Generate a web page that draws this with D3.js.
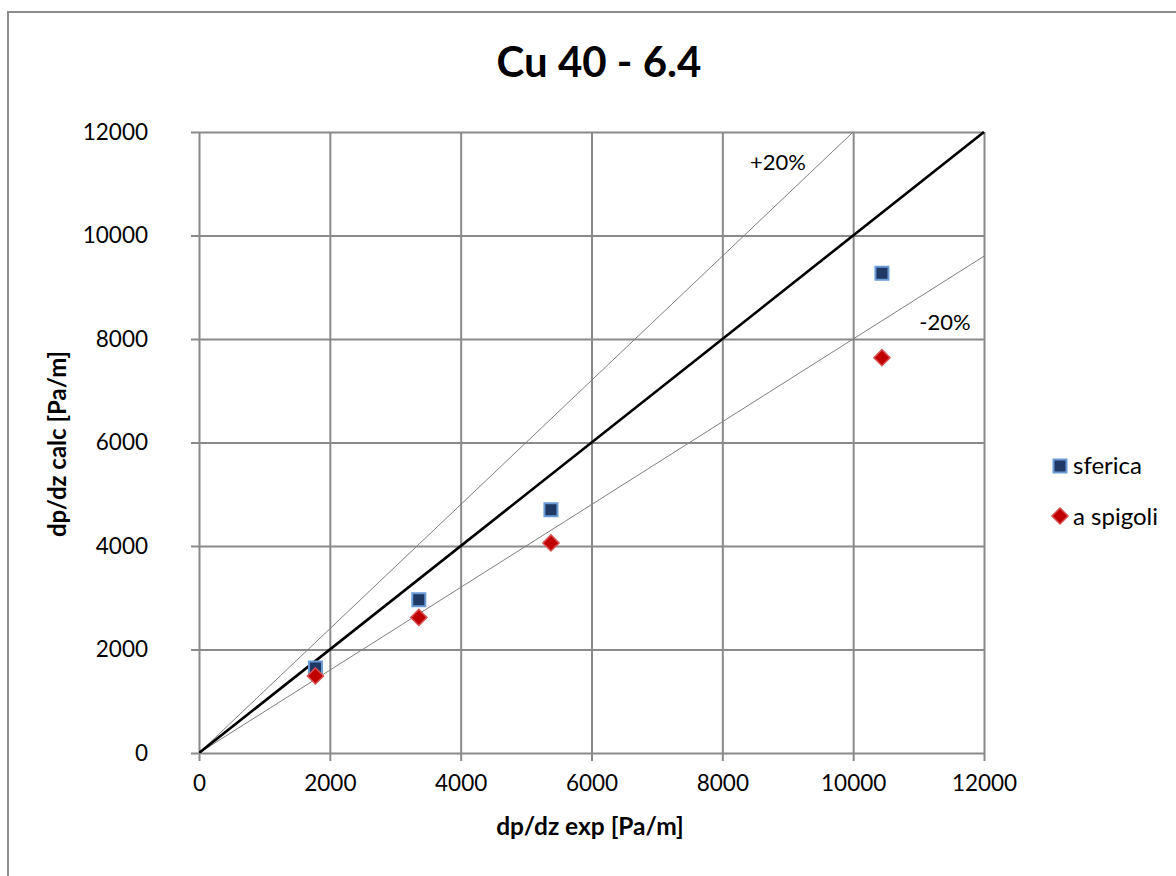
<!DOCTYPE html>
<html>
<head>
<meta charset="utf-8">
<script src="https://cdn.jsdelivr.net/npm/d3@7"></script>
<style>
  html, body { margin: 0; padding: 0; background: #fff; }
  svg { display: block; font-family: Lato, "Open Sans", sans-serif; }
</style>
</head>
<body>
<svg id="chart" width="1176" height="876"></svg>
<script>
// Measured pressure gradient vs. calculated values for two particle shapes
const expGradient   = [1780, 3360, 5380, 10440];   // dp/dz exp [Pa/m]
const calcSferica   = [1640, 2960, 4700, 9270];    // dp/dz calc, spherical
const calcSpigoli   = [1490, 2620, 4060, 7640];    // dp/dz calc, edged
const xTickValues   = [0, 2000, 4000, 6000, 8000, 10000, 12000];
const yTickValues   = [0, 2000, 4000, 6000, 8000, 10000, 12000];
const seriesNames   = ["sferica", "a spigoli"];
const bandFactors   = [1.2, 0.8];                  // ±20% reference lines
const bandLabels    = ["+20%", "-20%"];

const svg = d3.select("#chart");
const W = 1176, H = 876;
const plot = { left: 199, top: 132, right: 984, bottom: 753 };

// chart frame
svg.append("rect")
  .attr("x", 8).attr("y", 12)
  .attr("width", W + 20).attr("height", H + 20)
  .attr("fill", "#fff").attr("stroke", "#8c8c8c").attr("stroke-width", 2);

const x = d3.scaleLinear().domain([0, 12000]).range([plot.left, plot.right]);
const y = d3.scaleLinear().domain([0, 12000]).range([plot.bottom, plot.top]);

const gridColor = "#8a8a8a";

// vertical gridlines + bottom axis with outside ticks
const gx = svg.append("g")
  .attr("transform", `translate(0,${plot.bottom})`)
  .call(d3.axisBottom(x).tickValues(xTickValues).tickSize(8).tickPadding(14)
        .tickFormat(d3.format("d")));
gx.select(".domain").remove();
gx.selectAll(".tick line").attr("stroke", gridColor).attr("stroke-width", 2)
  .attr("y1", -(plot.bottom - plot.top));
gx.selectAll(".tick text").attr("font-size", 22.5).attr("fill", "#000")
  .attr("font-family", "Lato, sans-serif");

// horizontal gridlines + left axis
const gy = svg.append("g")
  .attr("transform", `translate(${plot.left},0)`)
  .call(d3.axisLeft(y).tickValues(yTickValues).tickSize(8).tickPadding(43)
        .tickFormat(d3.format("d")));
gy.select(".domain").remove();
gy.selectAll(".tick line").attr("stroke", gridColor).attr("stroke-width", 2)
  .attr("x1", -8).attr("x2", plot.right - plot.left);
gy.selectAll(".tick text").attr("font-size", 22.5).attr("fill", "#000")
  .attr("font-family", "Lato, sans-serif");

// y = x reference line and ±20% band lines, clipped to the plot area
svg.append("clipPath").attr("id", "plotClip")
  .append("rect")
  .attr("x", plot.left).attr("y", plot.top - 1)
  .attr("width", plot.right - plot.left + 1).attr("height", plot.bottom - plot.top + 1);

const refG = svg.append("g").attr("clip-path", "url(#plotClip)");
bandFactors.forEach(f => {
  const xEnd = Math.min(12000, 12000 / f);
  refG.append("line")
    .attr("x1", x(0)).attr("y1", y(0))
    .attr("x2", x(xEnd)).attr("y2", y(xEnd * f))
    .attr("stroke", "#7f7f7f").attr("stroke-width", 1);
});
refG.append("line")
  .attr("x1", x(0)).attr("y1", y(0))
  .attr("x2", x(12000)).attr("y2", y(12000))
  .attr("stroke", "#000").attr("stroke-width", 2.6);

// band labels
svg.append("text").attr("x", 778).attr("y", 170).attr("text-anchor", "middle")
  .attr("font-size", 22).text(bandLabels[0]);
svg.append("text").attr("x", 945).attr("y", 330).attr("text-anchor", "middle")
  .attr("font-size", 22).text(bandLabels[1]);

// markers
const squarePath = d3.symbol(d3.symbolSquare, 170)();
const diamondPath = d3.symbol(d3.symbolSquare, 130)();

function drawSquare(g, cx, cy) {
  g.append("path").attr("d", squarePath)
    .attr("transform", `translate(${cx},${cy})`)
    .attr("fill", "#1f3864").attr("stroke", "#6a9bd6").attr("stroke-width", 2);
}
function drawDiamond(g, cx, cy) {
  g.append("path").attr("d", diamondPath)
    .attr("transform", `translate(${cx},${cy}) rotate(45)`)
    .attr("fill", "#c00000").attr("stroke", "#d85050").attr("stroke-width", 1.5);
}

const ptsG = svg.append("g");
expGradient.forEach((v, i) => drawSquare(ptsG, x(v), y(calcSferica[i])));
expGradient.forEach((v, i) => drawDiamond(ptsG, x(v), y(calcSpigoli[i])));

// title
svg.append("text").attr("x", 599).attr("y", 77).attr("text-anchor", "middle")
  .attr("font-size", 42).attr("font-weight", "bold").text("Cu 40 - 6.4");

// axis titles
svg.append("text").attr("x", 590).attr("y", 835).attr("text-anchor", "middle")
  .attr("font-size", 24.5).attr("font-weight", "bold").text("dp/dz exp [Pa/m]");
svg.append("text")
  .attr("transform", "translate(66,444) rotate(-90)")
  .attr("text-anchor", "middle")
  .attr("font-size", 24).attr("font-weight", "bold").text("dp/dz calc [Pa/m]");

// legend
const lg = svg.append("g");
drawSquare(lg, 1060, 466);
lg.append("text").attr("x", 1073).attr("y", 474).attr("font-size", 24).text(seriesNames[0]);
drawDiamond(lg, 1060, 516);
lg.append("text").attr("x", 1073).attr("y", 525).attr("font-size", 24).text(seriesNames[1]);
</script>
</body>
</html>
